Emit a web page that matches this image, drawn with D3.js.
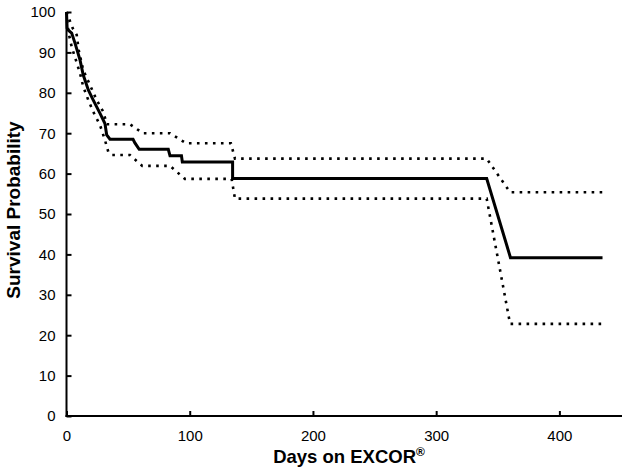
<!DOCTYPE html>
<html>
<head>
<meta charset="utf-8">
<script src="https://cdn.jsdelivr.net/npm/d3@7"></script>
<style>
  body { margin: 0; background: #fff; }
  svg { display: block; }
  .axis text { font-family: "Liberation Sans", Arial, sans-serif; font-size: 15px; fill: #000; }
  .label { font-family: "Liberation Sans", Arial, sans-serif; font-weight: bold; fill: #000; }
</style>
</head>
<body>
<div id="chart"></div>
<script>
// Kaplan-Meier estimate (days, survival %)
const survDays = [0, 0.5, 1.5, 4.2, 6.9, 11, 13.6, 17.7, 21.7, 27.2, 31.2, 32.6, 35.3, 54, 55.5, 59, 82.6, 84, 93.3, 94, 134.8, 134.8, 341, 360.3, 435];
const survProb = [100, 96, 95.5, 94.8, 92.3, 88.1, 84.4, 80.7, 78.2, 74.9, 72.4, 69.6, 68.5, 68.5, 67.6, 66.0, 66.0, 64.4, 64.4, 62.9, 62.9, 58.8, 58.8, 39.2, 39.2];

// upper confidence limit
const upperDays = [0, 5, 8.3, 9.9, 13.6, 19.1, 24.5, 29.8, 32.8, 51.5, 62, 84, 97, 133.4, 136.7, 341, 360, 435];
const upperProb = [100, 96, 94.3, 90.6, 85.6, 81.9, 78.2, 75.3, 72.2, 72.2, 70.0, 70.0, 67.5, 67.5, 63.7, 63.7, 55.4, 55.4];

// lower confidence limit
const lowerDays = [0, 1.5, 4.2, 11, 13.6, 17.7, 21.7, 27.2, 31.2, 33.9, 36.7, 51.5, 61.5, 84, 96, 134, 136.7, 341, 360, 435];
const lowerProb = [100, 95.1, 91.4, 84.8, 81.5, 78.2, 75.3, 72.0, 68.3, 65.4, 64.6, 64.6, 61.9, 61.9, 58.7, 58.7, 53.8, 53.8, 22.8, 22.8];

const xTicks = [0, 100, 200, 300, 400];
const yTicks = [0, 10, 20, 30, 40, 50, 60, 70, 80, 90, 100];

const width = 622;
const height = 475;
const margin = { top: 12, right: 1, bottom: 59, left: 66.5 };

const svg = d3.select("#chart")
  .append("svg")
  .attr("width", width)
  .attr("height", height);

const xScale = d3.scaleLinear()
  .domain([0, 450])
  .range([margin.left, width - margin.right]);

const yScale = d3.scaleLinear()
  .domain([0, 100])
  .range([height - margin.bottom, margin.top]);

function series(days, probs) {
  return days.map((d, i) => ({ day: d, prob: probs[i] }));
}

const line = d3.line()
  .x(d => xScale(d.day))
  .y(d => yScale(d.prob));

// confidence limits (dotted)
[series(upperDays, upperProb), series(lowerDays, lowerProb)].forEach(s => {
  svg.append("path")
    .datum(s)
    .attr("d", line)
    .attr("fill", "none")
    .attr("stroke", "#000")
    .attr("stroke-width", 2.6)
    .attr("stroke-dasharray", "2.6,5.4");
});

// survival estimate
svg.append("path")
  .datum(series(survDays, survProb))
  .attr("d", line)
  .attr("fill", "none")
  .attr("stroke", "#000")
  .attr("stroke-width", 3)
  .attr("stroke-linejoin", "miter");

// x axis, ticks pointing inward
const xAxis = svg.append("g")
  .attr("class", "axis")
  .attr("transform", `translate(0,${yScale(0)})`)
  .call(d3.axisBottom(xScale).tickValues(xTicks).tickSizeInner(-5).tickSizeOuter(0).tickPadding(14));

// y axis
const yAxis = svg.append("g")
  .attr("class", "axis")
  .attr("transform", `translate(${xScale(0)},0)`)
  .call(d3.axisLeft(yScale).tickValues(yTicks).tickSizeInner(-5).tickSizeOuter(0).tickPadding(11));

[xAxis, yAxis].forEach(g => {
  g.select(".domain").attr("stroke", "#000").attr("stroke-width", 2);
  g.selectAll(".tick line").attr("stroke", "#000").attr("stroke-width", 2);
});
xAxis.select(".domain").attr("d", `M${xScale(0) - 1},0H${width}`);
yAxis.select(".domain").attr("d", `M0,${yScale(100)}V${yScale(0) + 1}`);

// axis titles
const xLabel = svg.append("text")
  .attr("class", "label")
  .attr("x", 349)
  .attr("y", 463)
  .attr("text-anchor", "middle")
  .style("font-size", "18.5px");
xLabel.append("tspan").text("Days on EXCOR");
xLabel.append("tspan")
  .attr("dy", -7)
  .style("font-size", "12px")
  .text("®");

svg.append("text")
  .attr("class", "label")
  .attr("transform", "translate(20,210) rotate(-90)")
  .attr("text-anchor", "middle")
  .style("font-size", "19px")
  .text("Survival Probability");
</script>
</body>
</html>
